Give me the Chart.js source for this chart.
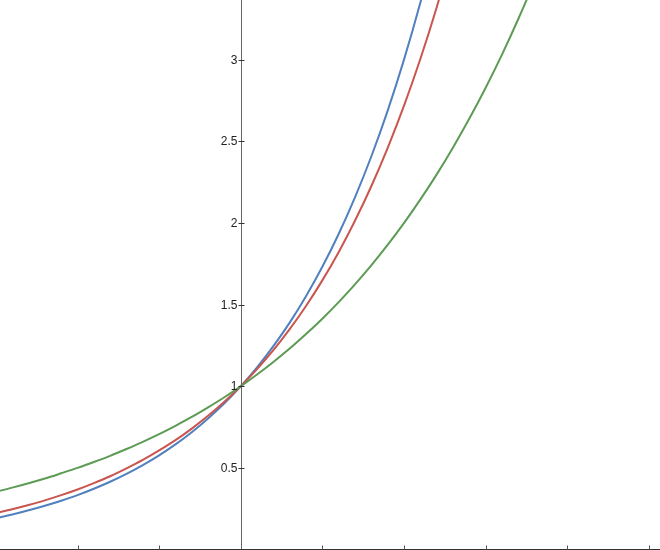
<!DOCTYPE html>
<html>
<head>
<meta charset="utf-8">
<script src="https://cdn.jsdelivr.net/npm/chart.js@4/dist/chart.umd.min.js"></script>
<style>
html,body{margin:0;padding:0;background:#fff;}
canvas{display:block;}
</style>
</head>
<body>
<canvas id="c" width="660" height="550"></canvas>
<script>
const xValues = [-1.5,-1.4,-1.3,-1.2,-1.1,-1.0,-0.9,-0.8,-0.7,-0.6,-0.5,-0.4,-0.3,-0.2,-0.1,0,0.1,0.2,0.3,0.4,0.5,0.6,0.7,0.8,0.9,1.0,1.1,1.2,1.3,1.4,1.5,1.6,1.7,1.8,1.9];
const blueValues = [0.192,0.215,0.240,0.268,0.299,0.333,0.372,0.415,0.463,0.517,0.577,0.644,0.719,0.803,0.896,1,1.116,1.246,1.390,1.552,1.732,1.933,2.158,2.408,2.688,3.000,3.348,3.737];
const redValues = [0.223,0.247,0.273,0.301,0.333,0.368,0.407,0.449,0.497,0.549,0.607,0.670,0.741,0.819,0.905,1,1.105,1.221,1.350,1.492,1.649,1.822,2.014,2.226,2.460,2.718,3.004,3.320,3.669];
const greenValues = [0.354,0.379,0.406,0.435,0.467,0.500,0.536,0.574,0.616,0.660,0.707,0.758,0.812,0.871,0.933,1,1.072,1.149,1.231,1.320,1.414,1.516,1.625,1.741,1.866,2.000,2.144,2.297,2.462,2.639,2.828,3.031,3.249,3.482,3.732];
const yTickLabels = ["0.5","1","1.5","2","2.5","3"];
const yTickValues = [0.5,1,1.5,2,2.5,3];
const xTickValues = [-1,-0.5,0.5,1,1.5,2,2.5];

function pts(vals){ return vals.map((v,i)=>({x:xValues[i], y:v})); }

const axesPlugin = {
  id:'axesPlugin',
  afterDatasetsDraw(chart){
    const ctx = chart.ctx, xs = chart.scales.x, ys = chart.scales.y;
    const x0 = Math.round(xs.getPixelForValue(0)) + 0.5;
    const y0 = Math.round(ys.getPixelForValue(0)) - 0.5;
    ctx.save();
    // y axis
    ctx.strokeStyle = '#666';
    ctx.lineWidth = 1;
    ctx.beginPath(); ctx.moveTo(x0, 0); ctx.lineTo(x0, chart.height); ctx.stroke();
    // x axis
    ctx.strokeStyle = '#333';
    ctx.beginPath(); ctx.moveTo(0, y0); ctx.lineTo(chart.width, y0); ctx.stroke();
    // x ticks
    ctx.strokeStyle = '#555';
    xTickValues.forEach(v=>{
      const px = Math.round(xs.getPixelForValue(v)) + 0.5;
      ctx.beginPath(); ctx.moveTo(px, y0); ctx.lineTo(px, y0 - 4); ctx.stroke();
    });
    // y ticks and labels
    ctx.fillStyle = '#222';
    ctx.font = '12px "Liberation Sans", Arial, sans-serif';
    ctx.textAlign = 'right';
    ctx.textBaseline = 'middle';
    yTickValues.forEach((v,i)=>{
      const py = Math.round(ys.getPixelForValue(v)) + 0.5;
      ctx.strokeStyle = '#333';
      ctx.beginPath(); ctx.moveTo(x0 - 3, py); ctx.lineTo(x0 + 3, py); ctx.stroke();
      ctx.fillText(yTickLabels[i], x0 - 4, py);
    });
    ctx.restore();
  }
};

new Chart(document.getElementById('c'), {
  type:'line',
  data:{
    datasets:[
      {data:pts(greenValues), borderColor:'#5d9b55', borderWidth:2, pointRadius:0, cubicInterpolationMode:'monotone', fill:false},
      {data:pts(redValues), borderColor:'#c9554f', borderWidth:2, pointRadius:0, cubicInterpolationMode:'monotone', fill:false},
      {data:pts(blueValues), borderColor:'#5080bd', borderWidth:2, pointRadius:0, cubicInterpolationMode:'monotone', fill:false}
    ]
  },
  options:{
    responsive:false,
    animation:false,
    layout:{padding:0},
    plugins:{legend:{display:false}, tooltip:{enabled:false}},
    scales:{
      x:{type:'linear', min:-1.475, max:2.569, display:false},
      y:{type:'linear', min:-0.003, max:3.367, display:false}
    }
  },
  plugins:[axesPlugin]
});
</script>
</body>
</html>
